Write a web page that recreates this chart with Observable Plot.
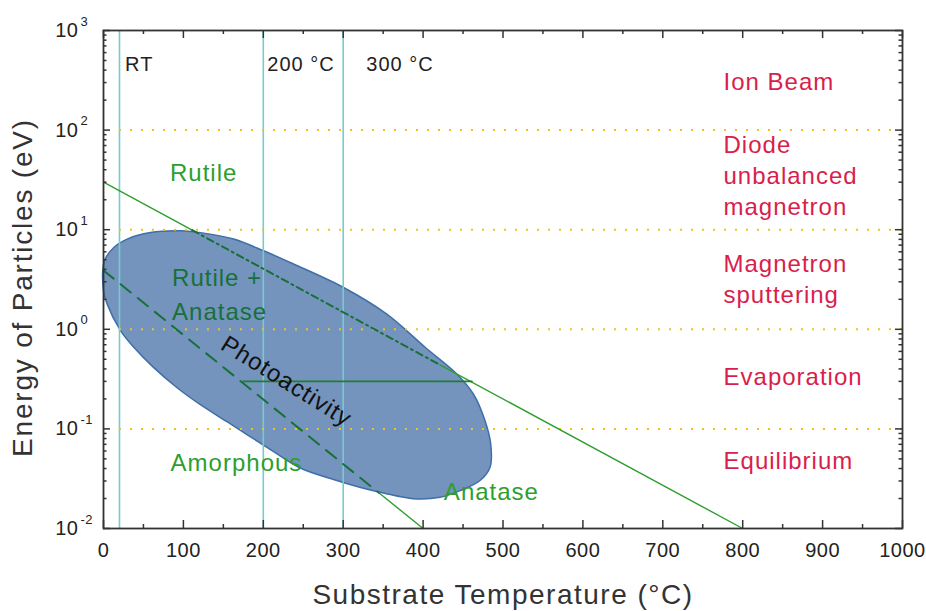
<!DOCTYPE html>
<html>
<head>
<meta charset="utf-8">
<script src="https://cdn.jsdelivr.net/npm/d3@7"></script>
<script src="https://cdn.jsdelivr.net/npm/@observablehq/plot@0.6"></script>
<style>
  html, body { margin: 0; padding: 0; background: #fff; }
  #chart svg { display: block; }
</style>
</head>
<body>
<div id="chart"></div>
<script>
// Substrate temperature (°C) vs. energy of the deposited particles (eV)
// for TiO2 film growth: phase regions, deposition techniques and the
// photoactive window.

// Axis ticks
const xTicks = [0, 100, 200, 300, 400, 500, 600, 700, 800, 900, 1000];
const xMinorTicks = [50, 150, 250, 350, 450, 550, 650, 750, 850, 950];
const yDecades = [0.01, 0.1, 1, 10, 100, 1000];
const yExponents = ["-2", "-1", "0", "1", "2", "3"];

// Reference temperatures (vertical lines) and their labels
const tempMarkers = [20, 200, 300];
const tempLabels = ["RT", "200 °C", "300 °C"];
const tempLabelX = [27, 205, 329];
const tempLabelE = 450;

// Energy limits separating the deposition techniques
const energyBands = [100, 10, 1, 0.1];
const techniques = ["Ion Beam", "Diode\nunbalanced\nmagnetron", "Magnetron\nsputtering", "Evaporation", "Equilibrium"];
const techniqueE = [297, 33.9, 3.1, 0.327, 0.046];
const techniqueT = 776;

// Rutile / anatase boundary
const rutileT = [0, 111, 421, 800];
const rutileE = [30, 9.9, 0.44, 0.01];

// Amorphous / crystalline boundary
const amorphT = [0, 345, 400];
const amorphE = [3.9, 0.0227, 0.01];

// Photoactivity threshold
const photoT = [175, 461];
const photoE = [0.3, 0.3];

// Outline of the photoactive region
const regionT = [0, 1.3, 12.9, 29.6, 58.8, 96.3, 125.4, 162.9, 200.4, 237.9, 300.4, 354.6, 402.5, 442.1, 462.9, 477.5, 484.6, 483.8, 471.3, 446.3, 421.3, 387.9, 350.4, 321.7, 287.9, 246.3, 212.9, 179.6, 154.6, 121.3, 92.1, 62.9, 37.9, 21.3, 4.6];
const regionE = [2.44, 4.87, 6.63, 8.05, 9.37, 9.75, 9.24, 8.05, 6.14, 4.52, 2.63, 1.42, 0.66, 0.356, 0.224, 0.121, 0.0708, 0.0412, 0.0303, 0.024, 0.0206, 0.0199, 0.0227, 0.0258, 0.031, 0.0405, 0.0592, 0.0877, 0.118, 0.175, 0.259, 0.412, 0.66, 0.97, 1.79];

// Phase labels
const crystalLabel = "Rutile";
const crystalT = 125.4, crystalE = 36.8;
const phaseLabels = ["Rutile +\nAnatase", "Amorphous", "Anatase"];
const phaseT = [85.8, 84, 426];
const phaseE = [2.2, 0.0449, 0.0227];

const font = '"Liberation Sans", Arial, Helvetica, sans-serif';
const W = 926, H = 611;
const M = {top: 30, right: 24, bottom: 83, left: 103};
const plotW = W - M.left - M.right;
const plotH = H - M.top - M.bottom;

const pts = (xs, ys) => xs.map((x, i) => ({x, y: ys[i]}));
const region = pts(regionT, regionE);
const rutile = pts(rutileT, rutileE);
const amorph = pts(amorphT, amorphE);
const photo = pts(photoT, photoE);

const yAllTicks = d3.scaleLog().domain([0.01, 1000]).ticks();
const yMinorTicks = yAllTicks.filter(v => !yDecades.includes(v));

const REGION_FILL = "#7393bc";
const lightGreen = "#2e9e2e";
const darkGreen = "#17703a";
const axisColor = "#333";
const red = "#d81e4b";

const chart = Plot.plot({
  width: W,
  height: H,
  marginTop: M.top,
  marginRight: M.right,
  marginBottom: M.bottom,
  marginLeft: M.left,
  x: {domain: [0, 1000], axis: null},
  y: {type: "log", domain: [0.01, 1000], axis: null},
  style: {fontFamily: font, background: "#fff", color: "#222", overflow: "visible"},
  marks: [
    // photoactive region
    Plot.line(region, {x: "x", y: "y", curve: "catmull-rom-closed", fill: REGION_FILL, stroke: "#3f6fa8", strokeWidth: 1.5}),

    // reference temperatures
    Plot.ruleX(tempMarkers, {stroke: "#78cacd", strokeWidth: 1.6}),

    // technique energy limits
    Plot.ruleY(energyBands, {x1: tempMarkers[0], x2: 1000, stroke: "#f2c21b", strokeWidth: 2, strokeDasharray: "2,9"}),

    // rutile boundary: solid outside the region, dash-dot inside
    Plot.line(rutile.slice(0, 2), {x: "x", y: "y", stroke: lightGreen, strokeWidth: 1.4}),
    Plot.line(rutile.slice(1, 3), {x: "x", y: "y", stroke: darkGreen, strokeWidth: 2, strokeDasharray: "7,4,2,4"}),
    Plot.line(rutile.slice(2), {x: "x", y: "y", stroke: lightGreen, strokeWidth: 1.4}),

    // amorphous boundary
    Plot.line(amorph.slice(0, 2), {x: "x", y: "y", stroke: darkGreen, strokeWidth: 2, strokeDasharray: "13,9"}),
    Plot.line(amorph.slice(1), {x: "x", y: "y", stroke: lightGreen, strokeWidth: 1.4}),

    // photoactivity threshold
    Plot.line(photo, {x: "x", y: "y", stroke: "#1f7d2c", strokeWidth: 1.8}),

    // inward ticks on all four sides
    Plot.tickX(xTicks, {x: d => d, insetTop: plotH - 8, stroke: axisColor, strokeWidth: 1.5}),
    Plot.tickX(xMinorTicks, {x: d => d, insetTop: plotH - 4, stroke: axisColor, strokeWidth: 1.5}),
    Plot.tickX(xTicks, {x: d => d, insetBottom: plotH - 8, stroke: axisColor, strokeWidth: 1.5}),
    Plot.tickX(xMinorTicks, {x: d => d, insetBottom: plotH - 4, stroke: axisColor, strokeWidth: 1.5}),
    Plot.tickY(yDecades, {y: d => d, insetRight: plotW - 7, stroke: axisColor, strokeWidth: 1.5}),
    Plot.tickY(yMinorTicks, {y: d => d, insetRight: plotW - 3.5, stroke: axisColor, strokeWidth: 1.5}),
    Plot.tickY(yDecades, {y: d => d, insetLeft: plotW - 7, stroke: axisColor, strokeWidth: 1.5}),
    Plot.tickY(yMinorTicks, {y: d => d, insetLeft: plotW - 3.5, stroke: axisColor, strokeWidth: 1.5}),
    Plot.frame({stroke: axisColor, strokeWidth: 1.8}),

    // tick labels
    Plot.text(xTicks, {x: d => d, frameAnchor: "bottom", lineAnchor: "middle", textAnchor: "middle", dy: 22.5, text: d => String(d), fontSize: 20, fill: "#222"}),
    Plot.text(yDecades, {y: d => d, frameAnchor: "left", lineAnchor: "middle", dx: -25, textAnchor: "end", text: () => "10", fontSize: 20, fill: "#222"}),
    Plot.text(yDecades, {y: d => d, frameAnchor: "left", lineAnchor: "middle", dx: -23, dy: -9, textAnchor: "start", text: (d, i) => yExponents[i], fontSize: 13, fill: "#222"}),

    // axis titles
    Plot.text(["Substrate Temperature (°C)"], {frameAnchor: "bottom", lineAnchor: "middle", textAnchor: "middle", dy: 67, text: d => d, fontSize: 28, fill: "#333"}),
    Plot.text(["Energy of Particles (eV)"], {frameAnchor: "left", lineAnchor: "middle", textAnchor: "middle", dx: -80, dy: 8, rotate: -90, text: d => d, fontSize: 28, fill: "#333"}),

    // temperature labels
    Plot.text(tempLabels, {x: (d, i) => tempLabelX[i], y: () => tempLabelE, text: d => d, textAnchor: "start", fontSize: 20, fill: "#222"}),

    // technique labels
    Plot.text(techniques, {x: () => techniqueT, y: (d, i) => techniqueE[i], dy: -3, text: d => d, textAnchor: "start", lineHeight: 1.3, fontSize: 24, fill: red}),

    // phase labels
    Plot.text([crystalLabel], {x: () => crystalT, y: () => crystalE, text: d => d, textAnchor: "middle", fontSize: 24, fill: lightGreen}),
    Plot.text(phaseLabels.slice(0, 1), {x: () => phaseT[0], y: () => phaseE[0], dy: -3, text: d => d, textAnchor: "start", lineHeight: 1.42, fontSize: 24, fill: darkGreen}),
    Plot.text(phaseLabels.slice(1), {x: (d, i) => phaseT[i + 1], y: (d, i) => phaseE[i + 1], dy: -0.5, text: d => d, textAnchor: "start", fontSize: 24, fill: lightGreen}),

    // photoactivity label
    Plot.text(["Photoactivity"], {x: () => 229, y: () => 0.3, text: d => d, rotate: 32, fontSize: 24, fill: "#111"})
  ]
});

const svg = d3.select(chart);

// fine cross-hatch texture for the photoactive region
const pat = svg.insert("defs", ":first-child")
  .append("pattern")
  .attr("id", "hatch")
  .attr("patternUnits", "userSpaceOnUse")
  .attr("width", 2)
  .attr("height", 2);
pat.append("rect").attr("width", 2).attr("height", 2).attr("fill", "#9cb3cf");
pat.append("rect").attr("width", 1).attr("height", 1).attr("fill", "#4b74aa");
pat.append("rect").attr("x", 1).attr("y", 1).attr("width", 1).attr("height", 1).attr("fill", "#4b74aa");
svg.selectAll(`[fill="${REGION_FILL}"]`).attr("fill", "url(#hatch)");

// slightly open letter spacing, wider for the axis titles
const titleSpacing = new Map([["Substrate Temperature (°C)", 1.5], ["Energy of Particles (eV)", 1.8]]);
svg.selectAll("text").style("letter-spacing", function() {
  const t = this.textContent;
  if (titleSpacing.has(t)) return titleSpacing.get(t) + "px";
  if (/^[0-9-]+$/.test(t)) return "0.5px";
  return "1px";
});

document.getElementById("chart").appendChild(chart);
</script>
</body>
</html>
